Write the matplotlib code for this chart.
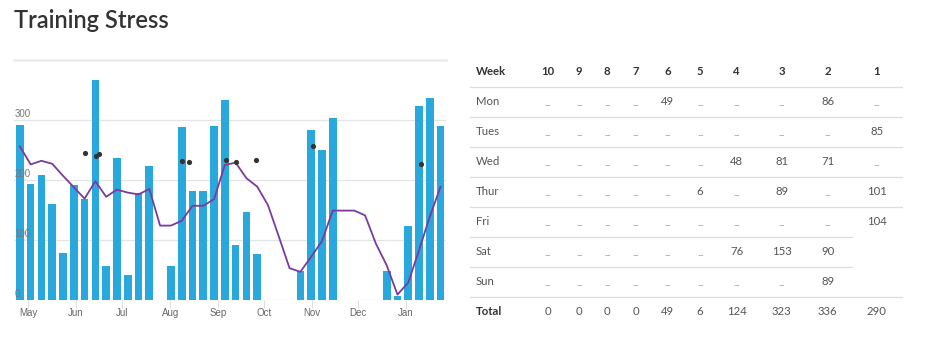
import datetime
import matplotlib
matplotlib.use('Agg')
import matplotlib.pyplot as plt
import matplotlib.dates as mdates
from matplotlib.lines import Line2D

plt.rcParams['font.family'] = ['Lato', 'DejaVu Sans']

# weekly training stress, oldest week first (weeks start on Monday)
first_week = datetime.date(2019, 4, 22)
weekly_stress = [292, 193, 209, 160, 79, 192, 168, 367, 56, 236,
                 41, 179, 223, 0, 57, 289, 182, 181, 290, 333,
                 92, 147, 77, 0, 0, 0, 48, 283, 250, 303,
                 0, 0, 0, 0, 49, 6, 124, 323, 336, 290]
# rolling average of the weekly load
rolling_avg = [256, 226, 232, 227, 207, 188, 169, 198, 172, 184,
               179, 176, 185, 124, 124, 132, 157, 157, 168, 225,
               229, 203, 189, 158, 106, 53, 47, 72, 98, 149,
               149, 149, 141, 94, 58, 9, 29, 83, 139, 189]
# single marked sessions
event_dates = [datetime.date(2019, 6, 7), datetime.date(2019, 6, 14),
               datetime.date(2019, 6, 16), datetime.date(2019, 8, 9),
               datetime.date(2019, 8, 13), datetime.date(2019, 9, 6),
               datetime.date(2019, 9, 13), datetime.date(2019, 9, 26),
               datetime.date(2019, 11, 2), datetime.date(2020, 1, 11)]
event_values = [245, 240, 244, 231, 230, 233, 230, 233, 256, 226]

months = ['May', 'Jun', 'Jul', 'Aug', 'Sep', 'Oct', 'Nov', 'Dec', 'Jan']
month_starts = [datetime.date(2019, m, 1) for m in range(5, 13)] + [datetime.date(2020, 1, 1)]
y_labels = [0, 100, 200, 300]

# last ten weeks, per day
week_numbers = [10, 9, 8, 7, 6, 5, 4, 3, 2, 1]
day_names = ['Mon', 'Tues', 'Wed', 'Thur', 'Fri', 'Sat', 'Sun']
day_stress = {
    'Mon':  [None, None, None, None, 49, None, None, None, 86, None],
    'Tues': [None, None, None, None, None, None, None, None, None, 85],
    'Wed':  [None, None, None, None, None, None, 48, 81, 71, None],
    'Thur': [None, None, None, None, None, 6, None, 89, None, 101],
    'Fri':  [None, None, None, None, None, None, None, None, None, 104],
    'Sat':  [None, None, None, None, None, None, 76, 153, 90, ''],
    'Sun':  [None, None, None, None, None, None, None, None, 89, ''],
}

W, H = 935, 349
fig = plt.figure(figsize=(W / 100, H / 100), dpi=100)

def fx(px):
    return px / W

def fy(py):
    return 1 - py / H

fig.text(fx(14), fy(21), 'Training Stress', fontsize=17, color='#333333',
         va='center', ha='left', weight='semibold')

ax = fig.add_axes([fx(14), fy(300), fx(446) - fx(14), fy(60) - fy(300)])
centers = [mdates.date2num(first_week + datetime.timedelta(days=7 * i)) + 3.5
           for i in range(len(weekly_stress))]

ax.bar(centers, weekly_stress, width=5.0, color='#29a8de', zorder=2)
ax.plot(centers, rolling_avg, color='#7b3a9e', lw=1.3, zorder=3)
ax.scatter([mdates.date2num(d) for d in event_dates], event_values,
           s=14, color='#333333', zorder=4, linewidths=0)

ax.set_xlim(mdates.date2num(first_week) - 0.3,
            mdates.date2num(first_week + datetime.timedelta(days=7 * len(weekly_stress))))
ax.set_ylim(0, 400)

for v in [0, 100, 200, 300]:
    ax.axhline(v, color='#e4e4e4', lw=0.9, zorder=1)
ax.axhline(400, color='#ebebeb', lw=1.8, zorder=1, clip_on=False)
for v in y_labels:
    ax.text(0.001, v + 2, str(v), transform=ax.get_yaxis_transform(),
            fontsize=7, color='#777777', ha='left', va='bottom', zorder=5,
            family=['Liberation Sans', 'DejaVu Sans'])

ax.set_yticks([])
ax.set_xticks([mdates.date2num(d) for d in month_starts])
ax.set_xticklabels(months, fontsize=7, color='#666666',
                   family=['Liberation Sans', 'DejaVu Sans'])
ax.tick_params(axis='x', length=5.5, width=0.8, color='#dddddd', pad=0.5)
for s in ax.spines.values():
    s.set_visible(False)

# weekly table
col_x = [547.7, 579.3, 607, 635.7, 667.7, 700, 736.7, 781.7, 827.7, 876.7]
row_y0, row_h = 71.7, 30
text_kw = dict(fontsize=8.2, va='center')

fig.text(fx(476), fy(row_y0), 'Week', color='#333333', weight='bold', ha='left', **text_kw)
for x, w in zip(col_x, week_numbers):
    fig.text(fx(x), fy(row_y0), str(w), color='#333333', weight='bold', ha='center', **text_kw)

for r, day in enumerate(day_names):
    y = row_y0 + row_h * (r + 1)
    fig.text(fx(476), fy(y), day, color='#555555', ha='left', **text_kw)
    for x, v in zip(col_x, day_stress[day]):
        if v is None:
            fig.text(fx(x), fy(y + 3), '–', color='#a8a8a8', ha='center',
                     family=['DejaVu Sans'], **text_kw)
        elif v != '':
            fig.text(fx(x), fy(y), str(v), color='#555555', ha='center', **text_kw)

totals = []
for c in range(len(week_numbers)):
    t = 0
    for day in day_names:
        v = day_stress[day][c]
        if isinstance(v, int):
            t += v
    totals.append(t)

y_total = row_y0 + row_h * 8
fig.text(fx(476), fy(y_total), 'Total', color='#333333', weight='bold', ha='left', **text_kw)
for x, t in zip(col_x, totals):
    fig.text(fx(x), fy(y_total), str(t), color='#555555', ha='center', **text_kw)

# row separators
for i in range(8):
    y = 87.3 + row_h * i
    x_end = 852.3 if i in (5, 6) else 901.5
    fig.add_artist(Line2D([fx(470), fx(x_end)], [fy(y), fy(y)],
                          color='#dddddd', lw=0.9))

fig.savefig('out.png', dpi=100)
